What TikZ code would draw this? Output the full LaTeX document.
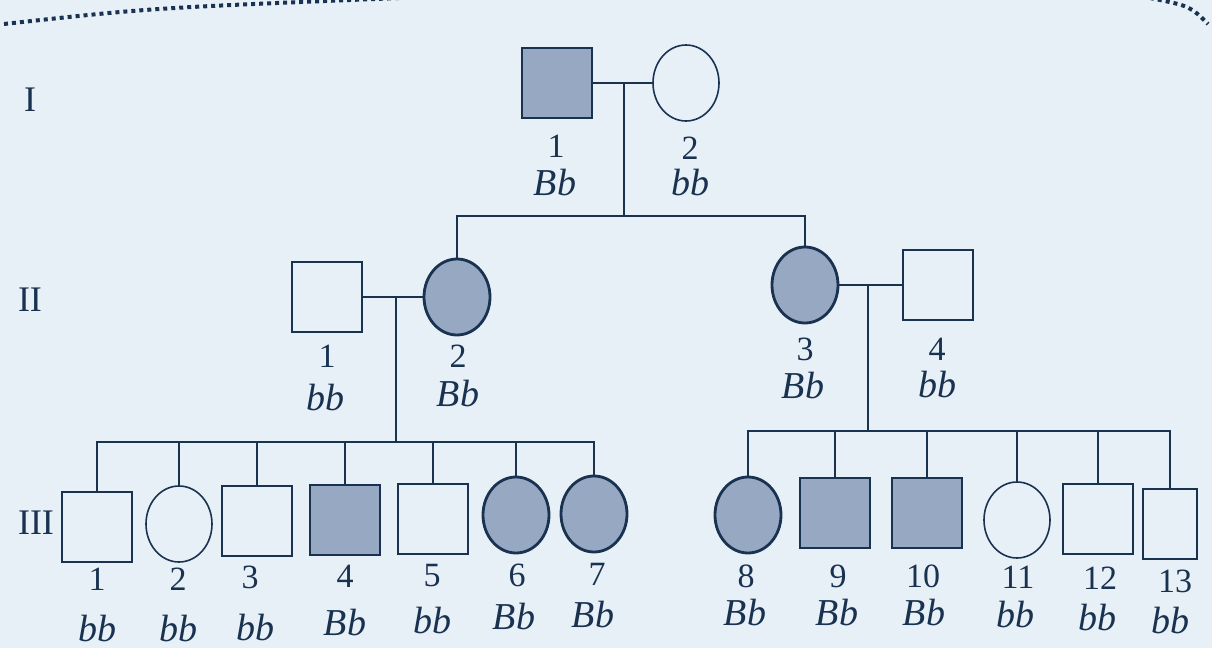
\documentclass[tikz,border=0pt]{standalone}
\usepackage{fontspec}
\setmainfont{Liberation Serif}
\usepackage{tikz}
\usetikzlibrary{shapes.geometric}
\definecolor{paper}{RGB}{232,240,247}
\definecolor{ink}{RGB}{25,50,80}
\definecolor{shade}{RGB}{150,168,194}

\begin{document}
\begin{tikzpicture}[x=0.5pt, y=-0.5pt, color=ink, line width=0.8pt,
    male/.style={draw, rectangle, minimum size=35pt, inner sep=0pt},
    female/.style={draw, ellipse, minimum width=33pt, minimum height=38pt, inner sep=0pt},
    ill/.style={fill=shade, line width=1.4pt},
    num/.style={inner sep=0pt, font=\fontsize{17}{20}\selectfont},
    geno/.style={inner sep=0pt, font=\fontsize{19}{22}\selectfont\itshape},
    gen/.style={font=\fontsize{18}{21}\selectfont}]
    \fill [paper] (0,0) rectangle (1212,648);
    \useasboundingbox (0,0) rectangle (1212,648);
    \draw [dotted, line width=2pt] (4,24) .. controls (150,8) .. (400,-2);
    \draw [dotted, line width=2pt] (1150,-2) .. controls (1190,6) .. (1208,24);

    \node [gen] (gI) at (30,100) {I};
    \node [gen] (gII) at (30,300) {II};
    \node [gen] (gIII) at (36,523) {III};

    % generation I
    \node [male, ill] (i1) at (557,83) {};
    \node [female] (i2) at (686,83) {};
    \node [num] (i1n) at (556,146) {1};
    \node [geno] (i1g) at (555,183) {Bb};
    \node [num] (i2n) at (690,148) {2};
    \node [geno] (i2g) at (690,183) {bb};
    \coordinate (c1) at (624,83);
    \coordinate (d1) at (624,216);
    \draw (i1) -- (i2);
    \draw (c1) -- (d1);

    % generation II
    \node [male] (ii1) at (327,297) {};
    \node [female, ill] (ii2) at (457,297) {};
    \node [female, ill] (ii3) at (805,285) {};
    \node [male] (ii4) at (938,285) {};
    \node [num] (ii1n) at (327,356) {1};
    \node [geno] (ii1g) at (325,397) {bb};
    \node [num] (ii2n) at (458,356) {2};
    \node [geno] (ii2g) at (458,393) {Bb};
    \node [num] (ii3n) at (805,349) {3};
    \node [geno] (ii3g) at (803,385) {Bb};
    \node [num] (ii4n) at (937,349) {4};
    \node [geno] (ii4g) at (937,384) {bb};
    \draw (ii2.north) |- (d1) -| (ii3.north);
    \draw (ii1) -- (ii2);
    \draw (ii3) -- (ii4);
    \coordinate (c2) at (396,297);
    \coordinate (d2) at (396,442);
    \coordinate (c3) at (868,285);
    \coordinate (d3) at (868,431);
    \draw (c2) -- (d2);
    \draw (c3) -- (d3);

    % generation III
    \node [male] (iii1) at (97,527) {};
    \node [female] (iii2) at (179,524) {};
    \node [male] (iii3) at (257,521) {};
    \node [male, ill] (iii4) at (345,520) {};
    \node [male] (iii5) at (433,519) {};
    \node [female, ill] (iii6) at (516,515) {};
    \node [female, ill] (iii7) at (594,514) {};
    \node [female, ill] (iii8) at (748,515) {};
    \node [male, ill] (iii9) at (835,513) {};
    \node [male, ill] (iii10) at (927,513) {};
    \node [female] (iii11) at (1017,520) {};
    \node [male] (iii12) at (1098,519) {};
    \node [male, minimum width=27pt] (iii13) at (1170,524) {};
    \draw (iii1.north) |- (d2) -| (iii7.north);
    \foreach \k in {2,...,6}
      \draw (iii\k.north) -- (iii\k.north |- d2);
    \draw (iii8.north) |- (d3) -| (iii13.north);
    \foreach \k in {9,...,12}
      \draw (iii\k.north) -- (iii\k.north |- d3);

    \node [num] (iii1n) at (97,579) {1};
    \node [geno] (iii1g) at (97,628) {bb};
    \node [num] (iii2n) at (178,579) {2};
    \node [geno] (iii2g) at (178,628) {bb};
    \node [num] (iii3n) at (250,577) {3};
    \node [geno] (iii3g) at (255,627) {bb};
    \node [num] (iii4n) at (345,576) {4};
    \node [geno] (iii4g) at (345,622) {Bb};
    \node [num] (iii5n) at (432,576) {5};
    \node [geno] (iii5g) at (432,620) {bb};
    \node [num] (iii6n) at (517,575) {6};
    \node [geno] (iii6g) at (514,616) {Bb};
    \node [num] (iii7n) at (597,574) {7};
    \node [geno] (iii7g) at (593,614) {Bb};
    \node [num] (iii8n) at (746,576) {8};
    \node [geno] (iii8g) at (745,612) {Bb};
    \node [num] (iii9n) at (838,576) {9};
    \node [geno] (iii9g) at (837,612) {Bb};
    \node [num] (iii10n) at (923,576) {10};
    \node [geno] (iii10g) at (924,612) {Bb};
    \node [num] (iii11n) at (1018,577) {11};
    \node [geno] (iii11g) at (1015,614) {bb};
    \node [num] (iii12n) at (1100,578) {12};
    \node [geno] (iii12g) at (1097,617) {bb};
    \node [num] (iii13n) at (1175,581) {13};
    \node [geno] (iii13g) at (1170,620) {bb};
  \end{tikzpicture}
\end{document}
